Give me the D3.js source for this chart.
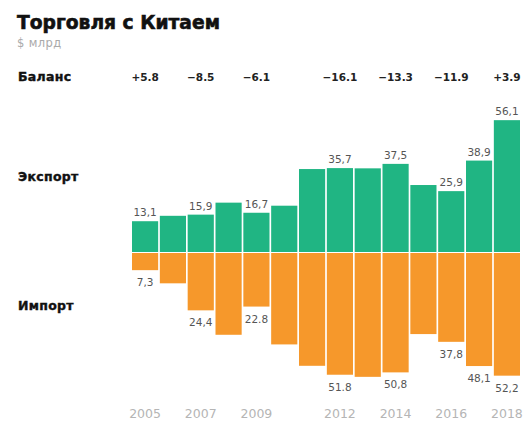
<!DOCTYPE html>
<html>
<head>
<meta charset="utf-8">
<script src="https://cdn.jsdelivr.net/npm/d3@7"></script>
<style>
  body { margin: 0; background: #fff; }
  text { font-family: "DejaVu Sans", sans-serif; }
</style>
</head>
<body>
<div id="chart"></div>
<script>
// Data (USD bn)
var years = [2005, 2006, 2007, 2008, 2009, 2010, 2011, 2012, 2013, 2014, 2015, 2016, 2017, 2018];
var exportVals = [13.1, 15.4, 15.9, 21.0, 16.7, 19.7, 35.3, 35.7, 35.6, 37.5, 28.5, 25.9, 38.9, 56.1];
var importVals = [7.3, 12.9, 24.4, 34.8, 22.8, 38.9, 48.0, 51.8, 52.7, 50.8, 34.5, 37.8, 48.1, 52.2];
var exportLabels = ["13,1", "", "15,9", "", "16,7", "", "", "35,7", "", "37,5", "", "25,9", "38,9", "56,1"];
var importLabels = ["7,3", "", "24,4", "", "22.8", "", "", "51.8", "", "50,8", "", "37,8", "48,1", "52,2"];
var balanceLabels = ["+5.8", "", "−8.5", "", "−6.1", "", "", "−16.1", "", "−13.3", "", "−11.9", "", "+3.9"];
var yearLabels = ["2005", "", "2007", "", "2009", "", "", "2012", "", "2014", "", "2016", "", "2018"];

var width = 531, height = 421;
var baseline = 252;
var green = "#20b583", orange = "#f6982b";

var svg = d3.select("#chart").append("svg")
    .attr("width", width)
    .attr("height", height);

// Scales
var xScale = d3.scaleBand()
    .domain(years)
    .range([132, 520])
    .paddingInner(0.06);
var yExp = d3.scaleLinear()
    .domain([0, 60])
    .range([baseline, baseline - 141]);
var yImp = d3.scaleLinear()
    .domain([0, 60])
    .range([baseline + 1, baseline + 1 + 141]);

// Title
svg.append("text")
    .attr("x", 17).attr("y", 29)
    .style("font-size", "18.7px")
    .style("font-weight", "bold")
    .style("fill", "#111")
    .style("stroke", "#111")
    .style("stroke-width", "0.6px")
    .text("Торговля с Китаем");
svg.append("text")
    .attr("x", 17).attr("y", 47)
    .style("font-size", "11.5px")
    .style("letter-spacing", "0.4px")
    .style("fill", "#aaa")
    .text("$ млрд");

// Row labels
var rows = [["Баланс", 81], ["Экспорт", 181], ["Импорт", 310]];
svg.selectAll(".rowlab")
    .data(rows)
    .enter().append("text")
    .attr("class", "rowlab")
    .attr("x", 18)
    .attr("y", d => d[1])
    .style("font-size", "12.5px")
    .style("font-weight", "bold")
    .style("letter-spacing", "0.3px")
    .style("fill", "#111")
    .style("stroke", "#111")
    .style("stroke-width", "0.4px")
    .text(d => d[0]);

// Export bars
svg.selectAll(".exp")
    .data(exportVals)
    .enter().append("rect")
    .attr("class", "exp")
    .attr("x", (d, i) => xScale(years[i]))
    .attr("width", xScale.bandwidth())
    .attr("y", d => yExp(d))
    .attr("height", d => yExp(0) - yExp(d))
    .style("fill", green);

// Import bars
svg.selectAll(".imp")
    .data(importVals)
    .enter().append("rect")
    .attr("class", "imp")
    .attr("x", (d, i) => xScale(years[i]))
    .attr("width", xScale.bandwidth())
    .attr("y", yImp(0))
    .attr("height", d => yImp(d) - yImp(0))
    .style("fill", orange);

var cx = i => xScale(years[i]) + xScale.bandwidth() / 2;

// Export labels
svg.selectAll(".explab")
    .data(exportLabels)
    .enter().append("text")
    .attr("class", "explab")
    .attr("x", (d, i) => cx(i))
    .attr("y", (d, i) => yExp(exportVals[i]) - 5)
    .attr("text-anchor", "middle")
    .style("font-size", "10.5px")
    .style("fill", "#555")
    .text(d => d);

// Import labels
svg.selectAll(".implab")
    .data(importLabels)
    .enter().append("text")
    .attr("class", "implab")
    .attr("x", (d, i) => cx(i))
    .attr("y", (d, i) => yImp(importVals[i]) + 16)
    .attr("text-anchor", "middle")
    .style("font-size", "10.5px")
    .style("fill", "#555")
    .text(d => d);

// Balance labels
svg.selectAll(".ballab")
    .data(balanceLabels)
    .enter().append("text")
    .attr("class", "ballab")
    .attr("x", (d, i) => cx(i))
    .attr("y", 81)
    .attr("text-anchor", "middle")
    .style("font-size", "10.5px")
    .style("font-weight", "bold")
    .style("fill", "#222")
    .text(d => d);

// Year labels
svg.selectAll(".yearlab")
    .data(yearLabels)
    .enter().append("text")
    .attr("class", "yearlab")
    .attr("x", (d, i) => cx(i))
    .attr("y", 418)
    .attr("text-anchor", "middle")
    .style("font-size", "12.5px")
    .style("fill", "#b5b5b5")
    .text(d => d);
</script>
</body>
</html>
